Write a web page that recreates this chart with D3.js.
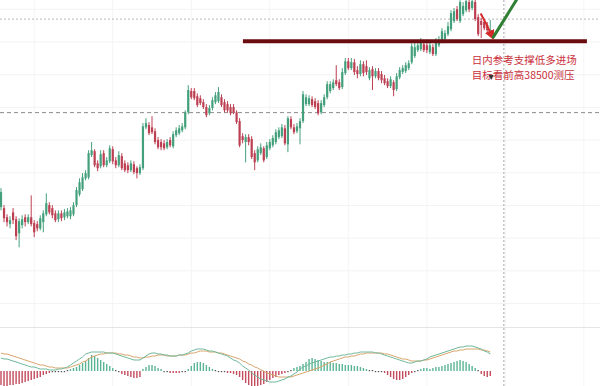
<!DOCTYPE html>
<html><head><meta charset="utf-8">
<script src="https://cdn.jsdelivr.net/npm/d3@7"></script>
<style>html,body{margin:0;padding:0;background:#fff;overflow:hidden}</style>
</head><body>
<svg id="chart" width="600" height="386"></svg>
<script>
const opens = [31950,31920,31640,31430,31790,31580,31150,31400,31640,31490,
31640,31460,31430,31300,31490,31730,32010,31920,31760,31580,
31760,31640,31670,31670,31730,32010,32340,32500,32830,32860,
33540,33660,33290,33200,33600,33230,33350,33720,33380,33230,
33510,33290,33230,33080,33260,33140,32990,33140,34390,34460,
34390,34270,34000,33940,33900,33780,34000,33810,34150,34210,
34300,34390,34850,35500,35500,35340,35280,35160,35010,34820,
34980,35160,35190,35310,35160,35100,35010,35010,34850,34580,
34120,33940,34090,34030,33600,33380,33600,33750,33480,33750,
33840,33940,34090,34120,34360,33870,34640,34390,34270,34360,
34580,35100,35100,35250,35190,35130,34850,35070,35310,35500,
35590,35830,35770,35620,36050,36410,36200,36380,36140,36020,
36320,36260,35890,36170,35950,36110,36020,35890,35800,35650,
35770,35560,35920,36080,36110,36200,36380,36570,36750,36780,
36930,36900,36690,36840,36630,36900,37030,37090,37240,37390,
37640,38000,37640,37850,37970,38220,38040,38220,37760,37640,
37610,37520,37210];
const closes = [32410,31610,31490,31550,31550,31060,31520,31580,31490,31640,
31430,31180,31300,31610,31760,32070,31790,31700,31550,31760,
31610,31790,31820,31850,32010,32470,32710,32860,32990,33600,
33690,33230,33140,33570,33230,33380,33750,33350,33230,33540,
33140,33080,33080,33290,33020,32990,33170,34420,34520,34210,
34240,33940,33780,33780,33750,33940,33840,34180,34300,34360,
34420,34850,35530,35310,35280,35070,35130,35010,34760,34980,
35220,35370,35470,35070,34910,34910,34820,34850,34550,33840,
34000,34090,33940,33480,33320,33720,33780,33380,33840,33940,
34060,34240,34300,34390,33900,34670,34390,34240,34420,34580,
35400,35310,35280,35070,35010,34820,35130,35310,35710,35710,
35770,35710,35590,36080,36410,36200,36380,36080,36020,36320,
36050,36080,36140,35950,36110,35890,35830,35740,35650,35860,
35530,35950,36140,36200,36290,36350,36870,36840,36900,37030,
36750,36750,36900,36630,37030,37060,37330,37270,37480,37880,
37940,37700,38220,38100,38250,38000,38250,37700,37240,37520,
37420,37360,37360];
const highs = [32530,32010,31730,31670,31920,31670,31610,31700,31730,31730,
32310,31550,31520,31700,31850,32370,32100,32010,31850,31850,
31850,31890,31920,31950,32100,32560,32830,32990,33080,33690,
33940,33720,33380,33690,33690,33480,33840,33810,33480,33660,
33600,33380,33320,33380,33350,33200,33260,34520,34670,34550,
34730,34360,34090,34030,34000,34030,34090,34270,34390,34460,
34520,34910,35680,35590,35590,35430,35370,35250,35100,35070,
35310,35470,35620,35400,35250,35190,35100,35100,34910,34670,
34210,34180,34180,34120,33690,33810,33900,33810,33940,34030,
34150,34330,34390,34490,34460,34730,34730,34490,34520,34670,
35500,35400,35370,35340,35280,35220,35220,35400,35800,35800,
35860,36290,35860,36200,36510,36510,36510,36480,36260,36440,
36410,36440,36230,36260,36200,36200,36110,35990,35890,35950,
35830,36050,36230,36290,36380,36440,36960,36990,36990,37120,
37030,36990,36990,36930,37120,37180,37420,37360,37610,37970,
38040,38100,38280,38220,38340,38310,38340,38310,37850,37730,
37700,37610,37670];
const lows = [31850,31490,31360,31300,31430,30940,30720,31300,31360,31430,
31360,31030,31210,31240,31180,31670,31730,31610,31490,31490,
31520,31550,31610,31580,31670,31950,32280,32440,32770,32800,
33480,33170,33050,33140,33170,33170,33290,33260,33140,33170,
33080,33020,32990,33020,32960,32830,32930,33080,34330,34150,
34180,33870,33720,33690,33690,33720,33780,33750,34090,34150,
34240,34330,34790,35250,35220,35010,35070,34950,34700,34760,
34910,35100,35130,35010,34850,34850,34760,34790,34490,33780,
33900,33320,33840,33420,33080,33320,33540,33320,33420,33690,
33780,33870,34030,34060,33840,33630,34330,34180,34210,33870,
34520,35040,35040,35010,34950,34760,34790,35010,35250,35430,
35530,35650,35530,35560,35990,36140,36140,35990,35890,35950,
35950,35990,35830,35530,35890,35830,35740,35680,35590,35590,
35340,35500,35860,36020,36050,36140,36320,36510,36690,36720,
36690,36660,36630,36570,36570,36840,36960,37030,37180,37330,
37580,37640,37580,37790,37910,37910,37970,37640,37180,37120,
37360,37300,37150];
const difValues = [260,240,240,220,200,180,160,140,120,100,
80,80,60,40,40,40,20,20,20,40,
40,60,80,120,160,200,240,280,340,360,
380,380,380,380,380,360,360,360,340,320,
300,280,260,240,220,220,220,260,300,340,
360,360,340,340,320,320,300,300,300,320,
320,340,360,400,420,440,440,440,420,400,
400,380,360,340,320,300,260,220,200,160,
100,60,20,-40,-80,-120,-160,-180,-200,-220,
-220,-220,-200,-180,-160,-120,-100,-60,-20,40,
80,100,140,160,180,200,220,240,260,280,
280,300,300,320,320,340,340,360,360,380,
380,380,380,380,360,360,340,320,300,280,
260,240,220,200,180,160,160,180,200,200,
220,240,280,300,320,340,360,380,400,420,
440,460,480,480,500,500,500,480,460,440,
400,380,340];
const deaValues = [360,340,340,320,300,280,260,240,220,200,
180,160,140,120,120,100,80,80,60,60,
60,60,60,80,100,120,140,180,200,240,
280,300,320,340,340,360,360,360,360,340,
340,320,320,300,280,280,260,260,280,280,
300,300,320,320,320,300,300,300,300,320,
320,320,340,360,360,380,400,400,400,380,
380,380,360,360,340,320,300,280,260,240,
200,180,140,120,80,60,20,0,-40,-60,
-80,-100,-120,-120,-120,-120,-120,-100,-80,-60,
-40,-20,0,20,40,60,80,120,140,180,
200,220,240,260,280,280,300,300,320,340,
340,360,360,360,360,360,360,340,340,320,
300,280,260,240,240,220,200,200,200,200,
220,220,240,260,280,300,320,340,360,380,
400,400,420,420,440,440,440,440,440,420,
420,400,380];
const histValues = [-280,-300,-300,-280,-280,-260,-260,
-240,-220,-200,-180,-160,-140,-120,
-80,-60,-40,-20,-20,-20,-20,-20,20,
40,60,80,120,160,200,260,320,300,260,220,180,140,100,60,
20,-20,
-60,-80,-100,-120,-140,-140,-120,
40,80,120,120,100,60,40,
-20,-20,-40,-40,-40,-40,-20,-20,
40,100,160,180,180,160,120,80,40,
20,-20,-20,-20,-40,-40,-60,-80,-120,
-180,-240,-280,-300,-300,-300,-280,-260,-220,
-180,-140,-120,-80,-60,-40,-20,
20,60,80,100,
140,180,240,260,240,220,200,180,180,
180,160,160,140,140,120,120,120,100,100,80,60,40,
20,20,-20,-20,-20,
-40,-80,-120,-160,-180,-180,-160,-120,-80,-40,
-20,20,
40,60,60,40,60,80,80,100,120,
140,160,180,200,220,200,180,140,100,60,
20,
-60,-100,-120,-100];
const gridIndex = [11,37,63,89,115,141,167,193];
const supportLevel = 37020, supportFrom = 80.1, supportTo = 194;
const crossPrice = 37700, crossIndex = 166.5;
const markPrice = 34840;
const redArrow = [[158.8,37870],[160.6,37560],[162.6,37170]];
const greenLine = [[163.0,37150],[170.9,38320]];
const noteLines = ["日内参考支撑低多进场","目标看前高38500测压"];
const noteAnchor = [155.9, 36330];

const svg = d3.select('#chart');
const x = d3.scaleLinear().domain([0,198]).range([1,599]);
const y = d3.scaleLinear().domain([28284,38284]).range([327,0]);
const ym = d3.scaleLinear().domain([-300,820]).range([386,330]);

// grid
const g = svg.append('g');
g.selectAll('.hg').data(y.ticks(10)).join('line')
  .attr('x1',0).attr('x2',600).attr('y1',d=>y(d)).attr('y2',d=>y(d))
  .attr('stroke','#f3f3f3').attr('stroke-width',1);
g.selectAll('.vg').data(gridIndex).join('line')
  .attr('x1',d=>x(d)).attr('x2',d=>x(d)).attr('y1',0).attr('y2',386)
  .attr('stroke','#f4f4f4').attr('stroke-width',1);
g.append('line').attr('x1',0).attr('x2',600).attr('y1',327.5).attr('y2',327.5)
  .attr('stroke','#e4e4e4');

// reference lines
g.append('line').attr('x1',0).attr('x2',600).attr('y1',y(crossPrice)).attr('y2',y(crossPrice))
  .attr('stroke','#b8b8b8').attr('stroke-dasharray','2,2');
g.append('line').attr('x1',0).attr('x2',600).attr('y1',y(markPrice)).attr('y2',y(markPrice))
  .attr('stroke','#8c8c8c').attr('stroke-dasharray','4,3');
g.append('line').attr('x1',x(crossIndex)).attr('x2',x(crossIndex)).attr('y1',0).attr('y2',386)
  .attr('stroke','#a8a8a8').attr('stroke-dasharray','2,2');

// candles
const data = opens.map((o,i)=>({i,o,c:closes[i],h:highs[i],l:lows[i]}));
const up = '#44a07c', down = '#bd3f52';
const cg = svg.append('g');
cg.selectAll('.wick').data(data).join('line')
  .attr('x1',d=>x(d.i)).attr('x2',d=>x(d.i)).attr('y1',d=>y(d.h)).attr('y2',d=>y(d.l))
  .attr('stroke',d=>d.c>=d.o?up:down).attr('stroke-width',1);
cg.selectAll('.body').data(data).join('rect')
  .attr('x',d=>x(d.i)-1.1).attr('width',2.2)
  .attr('y',d=>y(Math.max(d.o,d.c)))
  .attr('height',d=>Math.max(1,Math.abs(y(d.o)-y(d.c))))
  .attr('fill',d=>d.c>=d.o?up:down);

// support line
svg.append('line').attr('x1',x(supportFrom)).attr('x2',x(supportTo))
  .attr('y1',y(supportLevel)).attr('y2',y(supportLevel))
  .attr('stroke','#6a0c10').attr('stroke-width',4);

// arrows
const defs = svg.append('defs');
defs.append('marker').attr('id','ah').attr('viewBox','0 0 10 10').attr('refX',6).attr('refY',5)
  .attr('markerWidth',5).attr('markerHeight',5).attr('orient','auto')
  .append('path').attr('d','M0,0L10,5L0,10z').attr('fill','#d42a2a');
const ln = d3.line().x(d=>x(d[0])).y(d=>y(d[1]));
const lc = d3.line().x(d=>x(d[0])).y(d=>y(d[1])).curve(d3.curveNatural);
svg.append('path').attr('d',lc(redArrow)).attr('stroke','#d42a2a').attr('stroke-width',2)
  .attr('fill','none').attr('marker-end','url(#ah)');
svg.append('path').attr('d',ln(greenLine)).attr('stroke','#2f7f34').attr('stroke-width',3)
  .attr('fill','none').attr('stroke-linecap','round');

// note text
const t = svg.append('text').attr('x',x(noteAnchor[0])).attr('y',y(noteAnchor[1]))
  .attr('font-family','"Noto Sans CJK SC", sans-serif').attr('font-size',10.5).attr('fill','#c9303a');
noteLines.forEach((s,k)=>t.append('tspan').attr('x',x(noteAnchor[0])).attr('dy',k?15:0).text(s));
// small cursor mark
const cx = x(162.3), cy = y(35930);
svg.append('path').attr('d',`M${cx-2.5},${cy-2}L${cx+2.5},${cy-2}L${cx},${cy+3}z`).attr('fill','#333');

// MACD
const mg = svg.append('g');
mg.selectAll('.hb').data(histValues).join('rect')
  .attr('x',(d,i)=>x(i)-0.7).attr('width',1.4)
  .attr('y',d=>d>=0?ym(d):ym(0))
  .attr('height',d=>Math.max(1.2,Math.abs(ym(d)-ym(0))))
  .attr('fill',d=>Math.abs(d)<=20?'#555':(d>0?'#5bb595':'#c44b5c'));
const ml = d3.line().x((d,i)=>x(i)).y(d=>ym(d));
mg.append('path').attr('d',ml(deaValues)).attr('fill','none').attr('stroke','#d9a56c').attr('stroke-width',1);
mg.append('path').attr('d',ml(difValues)).attr('fill','none').attr('stroke','#6fb89a').attr('stroke-width',1);
</script>
</body></html>
